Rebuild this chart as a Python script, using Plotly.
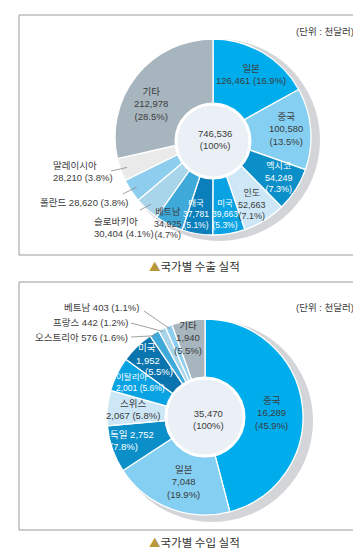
import math
import plotly.graph_objects as go

W, H = 361, 549

# ---------------- data ----------------
exp_countries = ["일본", "중국", "멕시코", "인도", "미국", "태국", "베트남", "슬로바키아", "폴란드", "말레이시아", "기타"]
exp_values = [126461, 100580, 54249, 52663, 39663, 37781, 34925, 30404, 28620, 28210, 212978]
exp_shares = ["16.9%", "13.5%", "7.3%", "7.1%", "5.3%", "5.1%", "4.7%", "4.1%", "3.8%", "3.8%", "28.5%"]
exp_total = "746,536"

imp_countries = ["중국", "일본", "독일", "스위스", "이탈리아", "미국", "오스트리아", "프랑스", "베트남", "기타"]
imp_values = [16289, 7048, 2752, 2067, 2001, 1952, 576, 442, 403, 1940]
imp_shares = ["45.9%", "19.9%", "7.8%", "5.8%", "5.6%", "5.5%", "1.6%", "1.2%", "1.1%", "5.5%"]
imp_total = "35,470"

unit_text = "(단위 : 천달러)"
exp_title = "국가별 수출 실적"
imp_title = "국가별 수입 실적"

# ---------------- styles ----------------
exp_colors = ["#00adec", "#84cff2", "#0a8fc9", "#cde7f6", "#09a3e4", "#0a7fbb",
              "#3fa9d9", "#a9d5eb", "#8dcdee", "#eaeaea", "#a7b5be"]
imp_colors = ["#00adec", "#84cff2", "#0a8fc9", "#cde7f6", "#09a3e4", "#0a74ae",
              "#3fa9d9", "#a9d5eb", "#8dcdee", "#a7b5be"]

FONT = "Liberation Sans Narrow, Liberation Sans, Noto Sans CJK KR"
DARK = "#3c3c3c"
WHITE = "#ffffff"


def px(x):
    return x / W


def py(y):
    return 1 - y / H


fig = go.Figure()
shapes = []
annotations = []


def add_pie(values, colors, cx, cy, R):
    fig.add_trace(go.Pie(
        values=values, sort=False, direction="clockwise", rotation=0,
        marker=dict(colors=colors, line=dict(color="#ffffff", width=1.3)),
        textinfo="none", hoverinfo="skip", showlegend=False, hole=0,
        domain=dict(x=[px(cx - R), px(cx + R)], y=[py(cy + R), py(cy - R)]),
    ))


def circle(cx, cy, r, fill, line_color=None, lw=0, layer="above"):
    shapes.append(dict(type="circle", xref="paper", yref="paper",
                       x0=px(cx - r), x1=px(cx + r), y0=py(cy + r), y1=py(cy - r),
                       fillcolor=fill, line=dict(color=line_color or fill, width=lw),
                       layer=layer))


def slice_point(values, i, cx, cy, r):
    tot = sum(values)
    mid = (sum(values[:i]) + values[i] / 2) / tot
    a = 2 * math.pi * mid
    return cx + r * math.sin(a), cy - r * math.cos(a)


def text(x, y, s, color=DARK, size=9.5, xanchor="center", align="center", family=FONT):
    annotations.append(dict(x=px(x), y=py(y), xref="paper", yref="paper", text=s,
                            showarrow=False, xanchor=xanchor, yanchor="middle", align=align,
                            font=dict(family=family, size=size, color=color)))


def leader(x0, y0, x1, y1):
    shapes.append(dict(type="line", xref="paper", yref="paper",
                       x0=px(x0), y0=py(y0), x1=px(x1), y1=py(y1),
                       line=dict(color="#8a8a8a", width=0.8), layer="above"))


# ---------------- boxes ----------------
for y0, y1 in [(7, 247), (274, 522)]:
    shapes.append(dict(type="rect", xref="paper", yref="paper",
                       x0=px(11), x1=px(354), y0=py(y1), y1=py(y0),
                       line=dict(color="#9a9a9a", width=1), fillcolor="rgba(0,0,0,0)",
                       layer="below"))

# ---------------- export pie ----------------
ecx, ecy, eR = 205, 129, 98
circle(ecx + 6, ecy + 3, eR + 3, "#d3d5d8", layer="below")
add_pie(exp_values, exp_colors, ecx, ecy, eR)
circle(ecx, ecy + 4, 37, "#eaf0f5", "#ffffff", 3)


def vs(i, vals, shares, mode):
    n, v, s = exp_countries[i] if vals is exp_values else imp_countries[i], f"{vals[i]:,}", shares[i]
    if mode == 3:
        return f"{n}<br>{v}<br>({s})"
    if mode == 2:
        return f"{n}<br>{v} ({s})"
    if mode == 21:
        return f"{n} {v}<br>({s})"
    return f"{n} {v} ({s})"


# label layout: index -> (x, y, color, mode, xanchor, size)
exp_layout = {
    0: (243, 66, DARK, 2, "center", 9.5),
    1: (278, 121, DARK, 3, "center", 9.5),
    2: (271, 169, WHITE, 3, "center", 9),
    3: (244, 196, DARK, 3, "center", 9),
    4: (217, 206, WHITE, 3, "center", 8.5),
    5: (188, 206, WHITE, 3, "center", 8.5),
    6: (160, 215, DARK, 3, "center", 9),
    7: (84, 219, DARK, 2, "left", 9.5),
    8: (123, 195, DARK, 1, "right", 9.5),
    9: (43, 164, DARK, 2, "left", 9.5),
    10: (143, 96, DARK, 3, "center", 9.5),
}
for i, (x, y, c, m, xa, sz) in exp_layout.items():
    text(x, y, vs(i, exp_values, exp_shares, m), color=c, xanchor=xa, size=sz,
         align="left" if xa == "left" else "center")

text(207, 131, f"{exp_total}<br>(100%)")

# leaders for outside export labels
for i, (lx, ly) in {9: (103, 163), 8: (115, 186), 7: (132, 202)}.items():
    sx, sy = slice_point(exp_values, i, ecx, ecy, eR * 0.93)
    leader(lx, ly, sx, sy)

# ---------------- import pie ----------------
icx, icy, iR = 197, 409, 98
circle(icx + 7, icy + 4, iR + 3, "#d3d5d8", layer="below")
add_pie(imp_values, imp_colors, icx, icy, iR)
circle(icx, icy, 39, "#eaf0f5", "#ffffff", 3)

imp_layout = {
    0: (263, 405, DARK, 3, "center"),
    1: (175, 474, DARK, 3, "center"),
    2: (100, 432, WHITE, 21, "left"),
    3: (125, 401, DARK, 2, "center"),
    4: (106, 374, WHITE, 2, "left"),
    9: (180, 330, DARK, 3, "center"),
    8: (133, 299, DARK, 1, "right"),
    7: (122, 314, DARK, 1, "right"),
    6: (122, 329, DARK, 1, "right"),
}
for i, (x, y, c, m, xa) in imp_layout.items():
    sz = 8.5 if i == 4 else 9.5
    text(x, y, vs(i, imp_values, imp_shares, m), color=c, xanchor=xa, size=sz,
         align="left" if xa == "left" else "center")

# 미국 (staggered lines)
text(139, 340, imp_countries[5], color=WHITE)
text(140, 352, f"{imp_values[5]:,}", color=WHITE)
text(151, 363, f"({imp_shares[5]})", color=WHITE)

text(200, 411, f"{imp_total}<br>(100%)")

for i, (lx, ly) in {8: (136, 303), 7: (123, 315), 6: (123, 329)}.items():
    sx, sy = slice_point(imp_values, i, icx, icy, iR * 0.97)
    leader(lx, ly, sx, sy)

# ---------------- units & captions ----------------
text(348, 23, unit_text, xanchor="right", size=9.5)
text(348, 299, unit_text, xanchor="right", size=9.5)

CAP_FONT = "Noto Sans CJK KR"
for y, t in [(258, exp_title), (534, imp_title)]:
    text(186, y, f"<span style='color:#b8973a'>▲</span>{t}", color="#333333",
         size=11.5, family=CAP_FONT)

fig.update_layout(
    width=W, height=H, autosize=False,
    margin=dict(l=0, r=0, t=0, b=0),
    paper_bgcolor="#ffffff", plot_bgcolor="#ffffff",
    shapes=shapes, annotations=annotations,
)

fig.write_html("out.html")
